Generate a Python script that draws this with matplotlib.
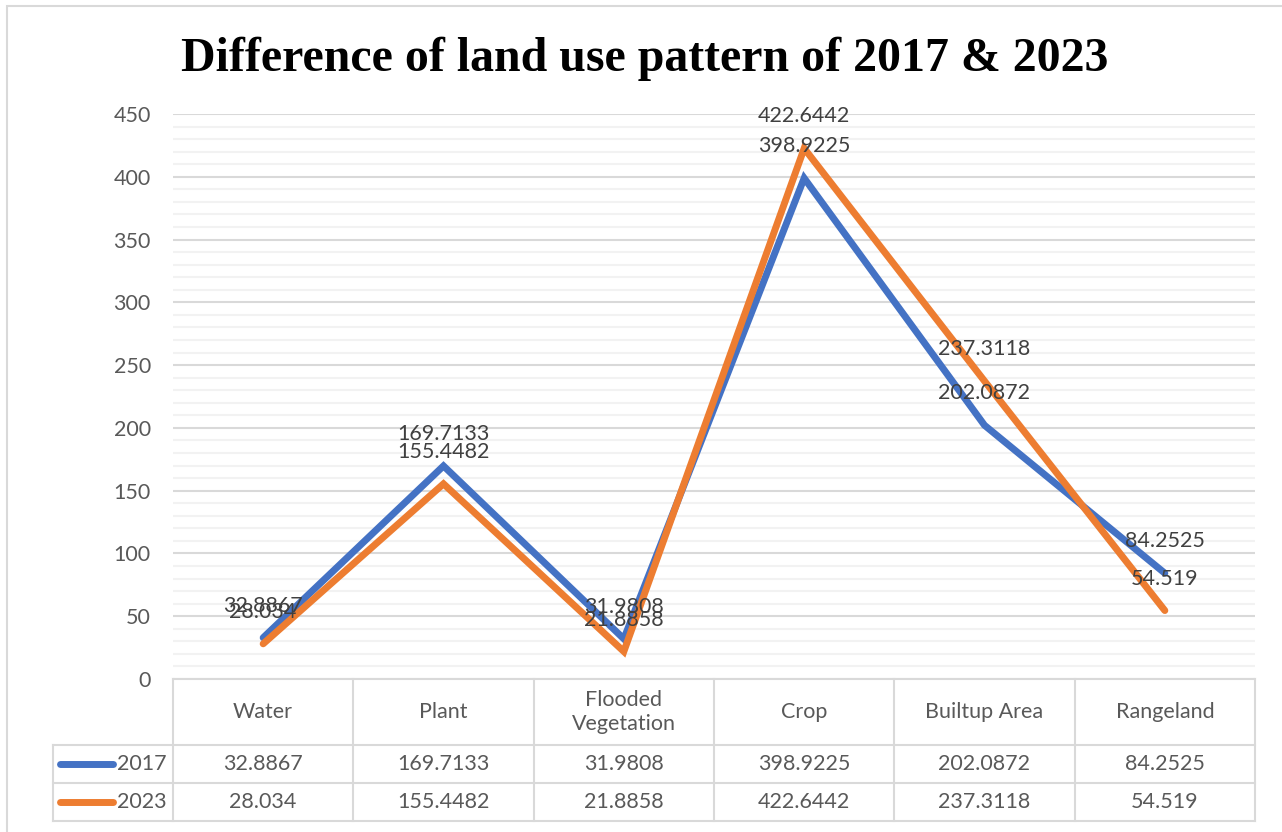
import matplotlib.pyplot as plt
import matplotlib.transforms as mtransforms
from matplotlib.lines import Line2D
from matplotlib.patches import Rectangle
import numpy as np

# Land use area per class
categories = ["Water", "Plant", "Flooded\nVegetation", "Crop", "Builtup Area", "Rangeland"]
values_2017 = [32.8867, 169.7133, 31.9808, 398.9225, 202.0872, 84.2525]
values_2023 = [28.034, 155.4482, 21.8858, 422.6442, 237.3118, 54.519]
series_names = ["2017", "2023"]
yticks = [0, 50, 100, 150, 200, 250, 300, 350, 400, 450]

BLUE = "#4472C4"
ORANGE = "#ED7D31"
TEXT = "#595959"
GRID = "#D9D9D9"
FS = 15.5

plt.rcParams['font.family'] = ['Lato', 'DejaVu Sans']

W, H = 1282, 832
fig = plt.figure(figsize=(W / 100, H / 100), dpi=100)

# plot area placed in pixel terms
left, right, top, bottom = 173, 1255, 114, 679
ax = fig.add_axes([left / W, 1 - bottom / H, (right - left) / W, (bottom - top) / H])

x = np.arange(len(categories))
series = [values_2017, values_2023]
colors = [BLUE, ORANGE]

for vals, col in zip(series, colors):
    ax.plot(x, vals, color=col, lw=5, solid_capstyle='round', solid_joinstyle='miter', zorder=3)
    for xi, v in zip(x, vals):
        ax.annotate(str(v), (xi, v), xytext=(0, 23), textcoords='offset points',
                    ha='center', va='center', fontsize=FS, color="#404040", zorder=4)

ax.set_xlim(-0.5, len(categories) - 0.5)
ax.set_ylim(0, 450)
ax.set_yticks(yticks)
ax.set_yticks(np.arange(0, 451, 10), minor=True)
ax.set_xticks([])
ax.tick_params(axis='y', which='both', length=0, pad=16, labelsize=FS, labelcolor=TEXT)
ax.grid(axis='y', which='major', color=GRID, lw=1.5, zorder=0)
ax.grid(axis='y', which='minor', color="#F2F2F2", lw=1.5, zorder=0)
for s in ax.spines.values():
    s.set_visible(False)

# data table under the plot
trans = mtransforms.blended_transform_factory(ax.transData, ax.transAxes)
ph = bottom - top
pw = right - left
r0, r1, r2, r3 = 0.0, -66 / ph, -104 / ph, -142 / ph
lab_left = (53 - left) / pw
lk = dict(color=GRID, lw=1.5, clip_on=False, zorder=5)

ax.plot([0, 1], [r0, r0], transform=ax.transAxes, **lk)
for yy in (r1, r2, r3):
    ax.plot([lab_left, 1], [yy, yy], transform=ax.transAxes, **lk)
ax.plot([1, 1], [r0, r3], transform=ax.transAxes, **lk)
ax.plot([0, 0], [r0, r3], transform=ax.transAxes, **lk)
ax.plot([lab_left, lab_left], [r1, r3], transform=ax.transAxes, **lk)
for xi in x[1:]:
    ax.plot([xi - 0.5, xi - 0.5], [r0, r3], transform=trans, **lk)

for xi, cat in zip(x, categories):
    ax.text(xi, (r0 + r1) / 2, cat, transform=trans, ha='center', va='center',
            fontsize=FS, color=TEXT, linespacing=1.3)
    ax.text(xi, (r1 + r2) / 2, str(values_2017[xi]), transform=trans,
            ha='center', va='center', fontsize=FS, color=TEXT)
    ax.text(xi, (r2 + r3) / 2, str(values_2023[xi]), transform=trans,
            ha='center', va='center', fontsize=FS, color=TEXT)

for (ya, yb), name, col in zip([(r1, r2), (r2, r3)], series_names, colors):
    yc = (ya + yb) / 2
    ax.add_line(Line2D([(60 - left) / pw, (113 - left) / pw], [yc, yc], transform=ax.transAxes,
                       color=col, lw=5, solid_capstyle='round', clip_on=False))
    ax.text((117 - left) / pw, yc, name, transform=ax.transAxes, ha='left', va='center',
            fontsize=FS, color=TEXT)

fig.text(645 / W, 1 - 59 / H, "Difference of land use pattern of 2017 & 2023",
         ha='center', va='center', fontsize=34.5, fontweight='bold',
         family=['Liberation Serif', 'DejaVu Serif'], color='black')

# chart frame (cut off at right and bottom in the original)
fig.patches.append(Rectangle((7 / W, -0.1), 1.2, 1.1 - 6 / H, transform=fig.transFigure,
                             fill=False, edgecolor=GRID, lw=1.5))

fig.savefig("out.png", dpi=100, facecolor='white')
